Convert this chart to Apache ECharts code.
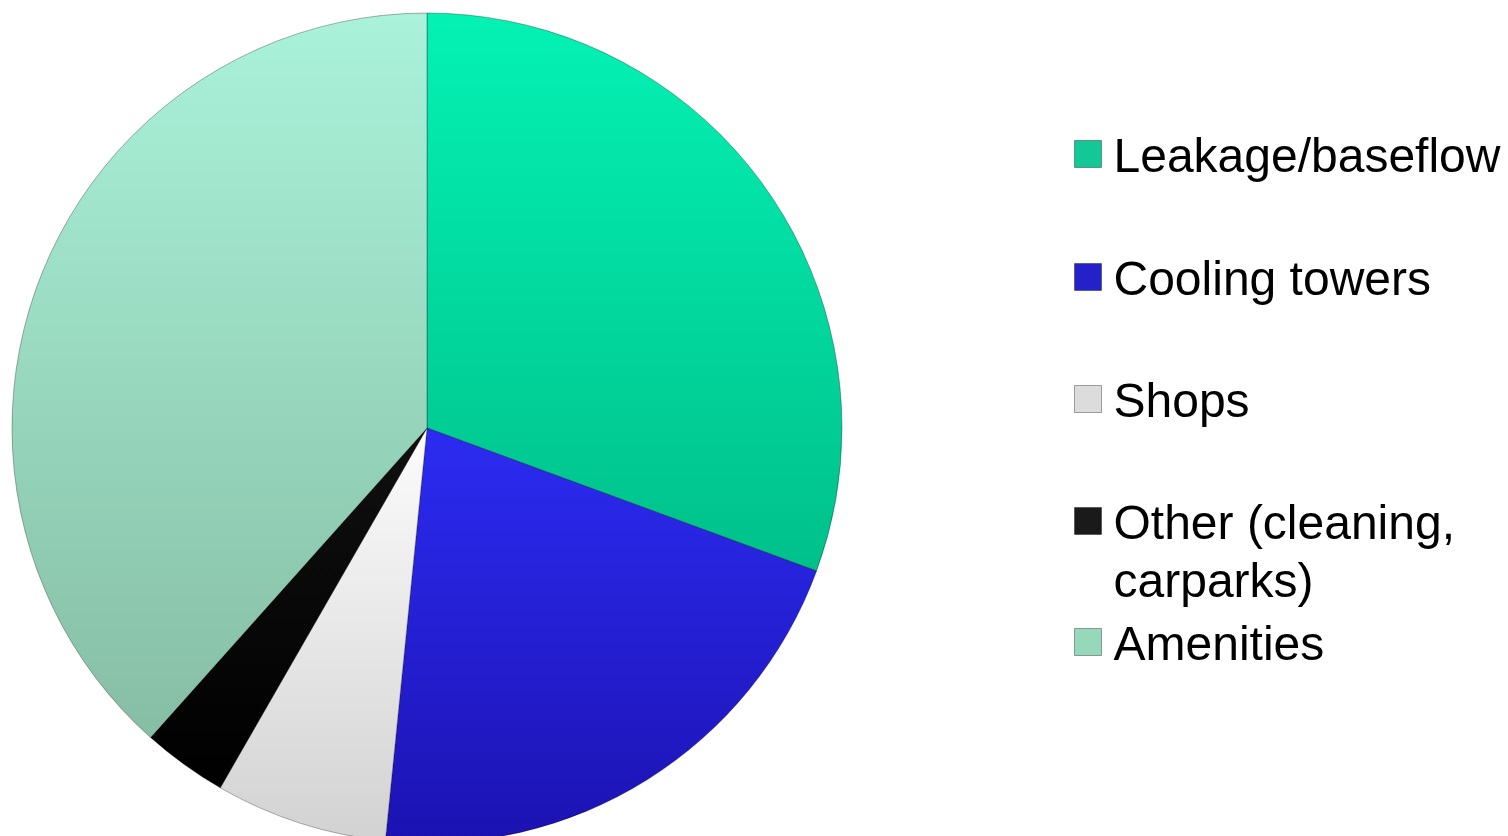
<!DOCTYPE html>
<html>
<head>
<meta charset="utf-8">
<script src="https://cdn.jsdelivr.net/npm/echarts@6/dist/echarts.min.js"></script>
<style>
html,body{margin:0;padding:0;background:#fff;}
#chart{width:1508px;height:836px;}
</style>
</head>
<body>
<div id="chart"></div>
<script>
// Data
var categories = ['Leakage/baseflow', 'Cooling towers', 'Shops', 'Other (cleaning, carparks)', 'Amenities'];
var legendLines = [['Leakage/baseflow'], ['Cooling towers'], ['Shops'], ['Other (cleaning,', 'carparks)'], ['Amenities']];
var values = [30.6, 21.0, 6.7, 3.3, 38.4];

// Styles
var sliceTop = ['#04F2B4', '#2C2CF2', '#FCFCFC', '#101010', '#AAF2DA'];
var sliceBottom = ['#00C08A', '#1C12B2', '#D2D2D2', '#000000', '#86BEA4'];
var iconColors = ['#12C896', '#2222C8', '#DCDCDC', '#1A1A1A', '#96D8BC'];
var iconCenters = [154, 277, 399, 521, 642];

var chart = echarts.init(document.getElementById('chart'));

var pieData = categories.map(function (name, i) {
  return {
    name: name,
    value: values[i],
    itemStyle: {
      color: {
        type: 'linear', x: 0, y: 0, x2: 0, y2: 1,
        colorStops: [{offset: 0, color: sliceTop[i]}, {offset: 1, color: sliceBottom[i]}]
      }
    }
  };
});

var FONT = 'Liberation Sans, Arial, sans-serif';
var tokenStyle = {fontFamily: FONT, fontSize: 48, color: '#000', padding: [10, 0, 0, 7]};

var legends = categories.map(function (name, i) {
  var lines = legendLines[i];
  var text;
  var nLines;
  if (lines.length > 1) {
    // blank line above keeps the icon aligned with the first text line
    text = '{e| }\n' + lines.map(function (l) { return '{t|' + l + '}'; }).join('\n');
    nLines = 3;
  } else {
    text = '{t|' + lines[0] + '}';
    nLines = 1;
  }
  var lineH = 58;
  return {
    show: true,
    orient: 'vertical',
    left: 1074,
    top: iconCenters[i] - (lineH * nLines) / 2 + 10,
    padding: 0,
    itemWidth: 27,
    itemHeight: 27,
    icon: 'rect',
    selectedMode: false,
    data: [{
      name: name,
      itemStyle: {color: iconColors[i], borderColor: 'rgba(0,0,0,0.35)', borderWidth: 1}
    }],
    formatter: function () { return text; },
    textStyle: {
      fontFamily: FONT,
      fontSize: 48,
      color: '#000',
      rich: {t: tokenStyle, e: tokenStyle}
    }
  };
});

chart.setOption({
  animation: false,
  backgroundColor: '#ffffff',
  legend: legends,
  series: [{
    type: 'pie',
    center: [427, 428],
    radius: 415,
    startAngle: 90,
    clockwise: true,
    label: {show: false},
    labelLine: {show: false},
    emphasis: {disabled: true},
    itemStyle: {borderColor: 'rgba(0,0,0,0.3)', borderWidth: 1},
    data: pieData
  }]
});
</script>
</body>
</html>
